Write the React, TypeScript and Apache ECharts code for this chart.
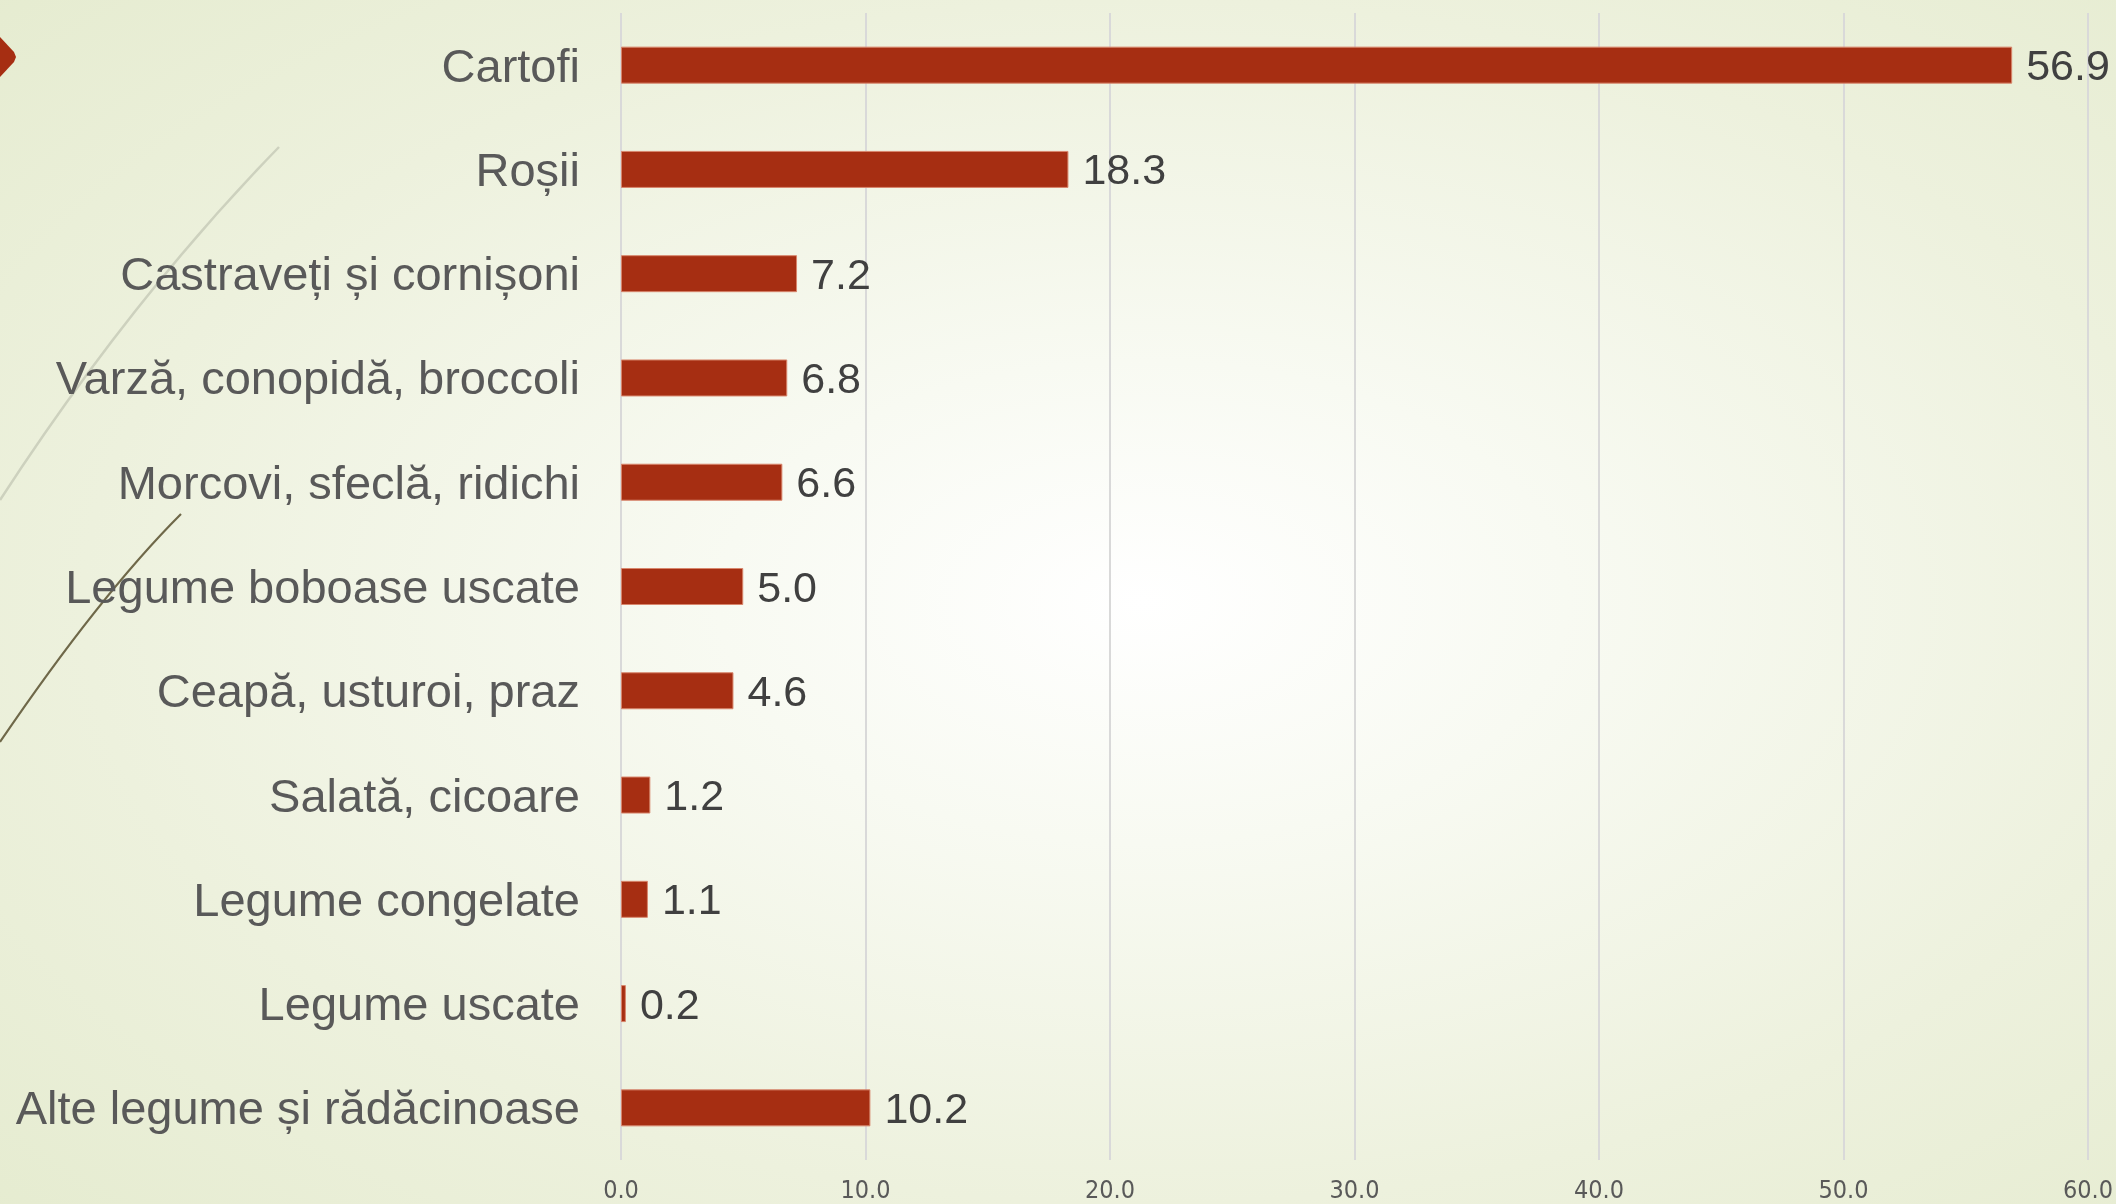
import React, { useEffect, useRef } from "react";
import * as echarts from "echarts";

const categories = [
  "Cartofi",
  "Roșii",
  "Castraveți și cornișoni",
  "Varză, conopidă, broccoli",
  "Morcovi, sfeclă, ridichi",
  "Legume boboase uscate",
  "Ceapă, usturoi, praz",
  "Salată, cicoare",
  "Legume congelate",
  "Legume uscate",
  "Alte legume și rădăcinoase",
];
const values = [56.9, 18.3, 7.2, 6.8, 6.6, 5.0, 4.6, 1.2, 1.1, 0.2, 10.2];
const axisMin = 0;
const axisMax = 60;
const axisStep = 10;

export default function App() {
  const ref = useRef<HTMLDivElement>(null);
  useEffect(() => {
    if (!ref.current) return;
    const chart = echarts.init(ref.current, null, { renderer: "svg" });
    const W = 2116;
    const H = 1204;
    chart.setOption({
      animation: false,
      graphic: [
        {
          type: "rect",
          z: -10,
          silent: true,
          shape: { x: 0, y: 0, width: W, height: H },
          style: {
            fill: new echarts.graphic.RadialGradient(0.54, 0.5, 1.0, [
              { offset: 0, color: "#FFFFFF" },
              { offset: 0.2, color: "#F8FAF2" },
              { offset: 0.5, color: "#EDF1DD" },
              { offset: 0.82, color: "#E3EACC" },
              { offset: 1, color: "#DFE7C3" },
            ]),
          },
        },
        {
          type: "bezierCurve",
          silent: true,
          shape: { x1: 279, y1: 147, cpx1: 130, cpy1: 300, x2: 0, y2: 500 },
          style: { stroke: "#CDD1BE", lineWidth: 2.5, fill: null },
        },
        {
          type: "bezierCurve",
          silent: true,
          shape: { x1: 181, y1: 514, cpx1: 100, cpy1: 595, x2: 0, y2: 742 },
          style: { stroke: "#6F6849", lineWidth: 2.2, fill: null },
        },
        {
          type: "polygon",
          silent: true,
          shape: {
            points: [
              [0, 37],
              [14, 52],
              [16, 57],
              [14, 62],
              [0, 77],
            ],
          },
          style: { fill: "#A62E12" },
        },
      ],
      grid: { left: 621, right: 28, top: 13, bottom: 44, containLabel: false },
      xAxis: {
        type: "value",
        min: axisMin,
        max: axisMax,
        interval: axisStep,
        axisLine: { show: false },
        axisTick: { show: false },
        splitLine: { show: true, lineStyle: { color: "#D9D9D9", width: 2 } },
        axisLabel: {
          margin: 17,
          fontSize: 25,
          color: "#595959",
          fontFamily: "'Liberation Sans Narrow', 'DejaVu Sans Condensed', sans-serif",
          formatter: (v: number) => v.toFixed(1),
        },
      },
      yAxis: {
        type: "category",
        data: categories,
        inverse: true,
        axisLine: { show: false },
        axisTick: { show: false },
        splitLine: { show: false },
        axisLabel: {
          margin: 41,
          fontSize: 47,
          color: "#595959",
          fontFamily: "'Liberation Sans', Arial, sans-serif",
        },
      },
      series: [
        {
          type: "bar",
          data: values,
          barWidth: 37,
          itemStyle: { color: "#A62E12", borderColor: "#D8866C", borderWidth: 1 },
          label: {
            show: true,
            position: "right",
            distance: 14,
            fontSize: 43,
            color: "#404040",
            fontFamily: "'Liberation Sans', Arial, sans-serif",
            formatter: (p: any) => Number(p.value).toFixed(1),
          },
        },
      ],
    });
    return () => chart.dispose();
  }, []);
  return (
    <div
      ref={ref}
      style={{ position: "fixed", left: 0, top: 0, width: 2116, height: 1204 }}
    />
  );
}
